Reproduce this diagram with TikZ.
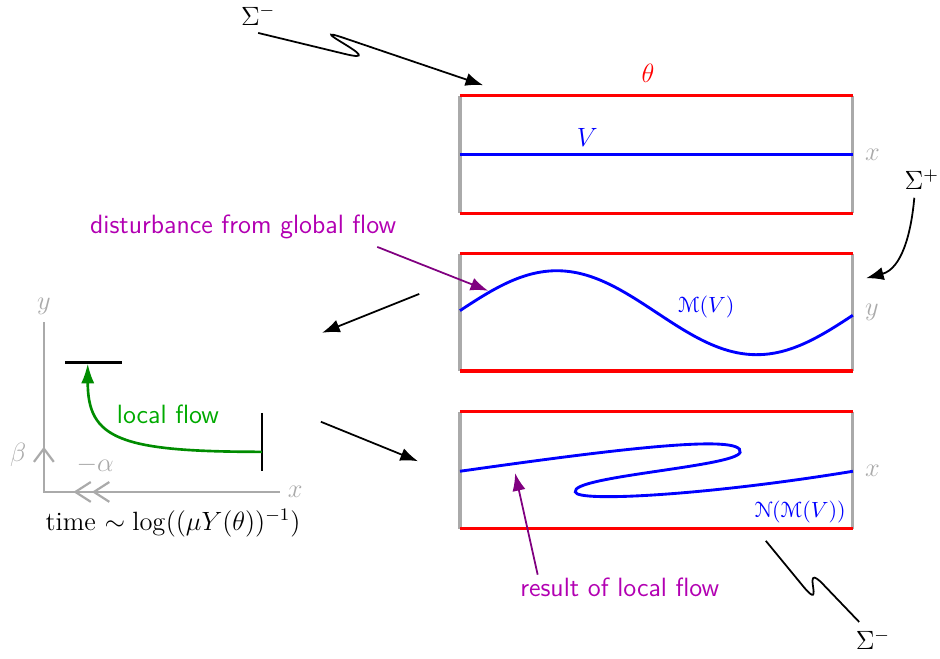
\documentclass[tikz,border=0pt]{standalone}
\usepackage{amsmath,amssymb}
\usepackage[mathcal]{eucal}
\usepackage{tikz}
\usetikzlibrary{arrows.meta,positioning,calc}
\definecolor{wallred}{RGB}{255,0,0}
\definecolor{curveblue}{RGB}{0,0,255}
\definecolor{sidegray}{RGB}{170,170,170}
\definecolor{flowgreen}{RGB}{0,140,0}
\definecolor{softgreen}{RGB}{0,170,0}
\definecolor{notepurple}{RGB}{128,0,128}
\definecolor{softpurple}{RGB}{178,0,178}

\begin{document}
\begin{tikzpicture}[node distance=0.65cm, every node/.style={font=\large},
  box/.style={minimum width=6.27cm,minimum height=1.87cm,inner sep=0pt,outer sep=0pt},
  wall/.style={wallred,line width=1.4pt},
  side/.style={sidegray,line width=1.4pt},
  curve/.style={curveblue,line width=1.3pt},
  lbl/.style={font=\large\sffamily},
  jump/.style={thick,-{Latex[length=8pt,width=6pt]}},
  note/.style={thick,notepurple,-{Latex[length=8pt,width=6pt]}},
  flow/.style={very thick,flowgreen,-{Latex[length=9pt,width=6pt]}},
  axis/.style={sidegray,line width=1pt},
  barb/.style={sidegray,line width=1pt},
  bar/.style={black,very thick}]
  \useasboundingbox (0,0) rectangle (15,-10.5);
  \node[box] (a) at (10.475,-2.465) {};
  \node[box,below=of a] (b) {};
  \node[box,below=of b] (c) {};
  \foreach \n in {a,b,c}{
    \draw[side] (\n.north west)--(\n.south west) (\n.north east)--(\n.south east);
    \draw[wall] (\n.north west)--(\n.north east) (\n.south west)--(\n.south east);}
  \node[sidegray,right=2pt of a.east] (xa) {$x$};
  \node[sidegray,right=2pt of b.east] (yb) {$y$};
  \node[sidegray,right=2pt of c.east] (xc) {$x$};
  \node[wallred] (theta) at (10.34,-1.165) {$\theta$};
  \node[curveblue] (vlab) at (9.37,-2.19) {$V$};
  \node[curveblue,font=\normalsize] (mlab) at (11.27,-4.90) {$\mathcal{M}(V)$};
  \node[curveblue,font=\normalsize] (nlab) at (12.77,-8.17) {$\mathcal{N}(\mathcal{M}(V))$};
  \draw[curve] (a.west) -- (a.east);
  \draw[curve] plot[domain=7.34:13.61,samples=90,smooth] (\x,{-4.99+0.67*sin(360*(\x-7.29)/6.38)});
  \draw[curve] (7.34,-7.52) .. controls (9.6,-7.2) and (11.9,-6.9) .. (11.81,-7.22)
    .. controls (11.72,-7.45) and (9.1,-7.6) .. (9.18,-7.85)
    .. controls (9.2,-8.02) and (11.3,-7.9) .. (13.61,-7.52);

  \node (sigA) at (4.12,-0.24) {$\Sigma^-$};
  \node (sigP) at (14.71,-2.87) {$\Sigma^+$};
  \node (sigB) at (13.93,-10.21) {$\Sigma^-$};
  \coordinate (atip) at (7.71,-1.36);
  \coordinate (ptip) at (13.82,-4.44);
  \coordinate (bend) at (12.22,-8.63);
  \draw[jump] (sigA.south) -- (5.50,-0.86) .. controls (6.28,-1.05) and (4.74,-0.35) .. (5.50,-0.61) -- (atip);
  \draw[jump] ([xshift=-0.12cm]sigP.south) to[out=-95,in=15] (ptip);
  \draw[thick] (bend) -- (12.82,-9.36) .. controls (13.20,-9.82) and (12.74,-8.90) .. (13.15,-9.34) -- ([xshift=-0.22cm]sigB.north);

  \node[lbl,softpurple] (dist) at (3.88,-3.62) {disturbance from global flow};
  \node[lbl,softpurple] (res) at (9.89,-9.38) {result of local flow};
  \coordinate (d1) at (6.02,-3.94);
  \coordinate (d2) at (7.79,-4.64);
  \coordinate (r1) at (8.58,-9.17);
  \coordinate (r2) at (8.22,-7.55);
  \draw[note] (d1) -- (d2);
  \draw[note] (r1) -- (r2);

  \coordinate (pa) at (6.69,-4.69);
  \coordinate (pb) at (5.14,-5.31);
  \coordinate (pc) at (5.12,-6.73);
  \coordinate (pd) at (6.67,-7.36);
  \draw[jump] (pa) -- (pb);
  \draw[jump] (pc) -- (pd);

  \coordinate (o) at (0.70,-7.85);
  \coordinate (ytop) at (0.70,-5.14);
  \coordinate (xend) at (4.47,-7.85);
  \draw[axis] (ytop) -- (o) -- (xend);
  \node[sidegray,above=0pt of ytop] (ylab) {$y$};
  \node[sidegray,right=0pt of xend] (xlab) {$x$};
  \draw[barb,-{Straight Barb[length=6pt,width=9pt]}] (o) -- (0.70,-7.13);
  \draw[barb,-{Straight Barb[length=7pt,width=9pt] Straight Barb[length=7pt,width=9pt]}] (2.1,-7.85) -- (1.17,-7.85);
  \node[sidegray] (beta) at (0.29,-7.26) {$\beta$};
  \node[sidegray] (alpha) at (1.52,-7.42) {$-\alpha$};
  \coordinate (hbar) at (1.40,-5.80);
  \coordinate (vbar) at (4.18,-7.21);
  \draw[bar] (1.04,-5.78) -- (1.95,-5.78);
  \draw[bar] (4.18,-6.59) -- (4.18,-7.52);
  \draw[flow] (vbar) .. controls (1.9,-7.21) and (1.40,-7.0) .. (hbar);
  \node[lbl,softgreen] (local) at (2.68,-6.61) {local flow};
  \node (time) at (2.76,-8.35) {time $\sim\log((\mu Y(\theta))^{-1})$};
\end{tikzpicture}
\end{document}
